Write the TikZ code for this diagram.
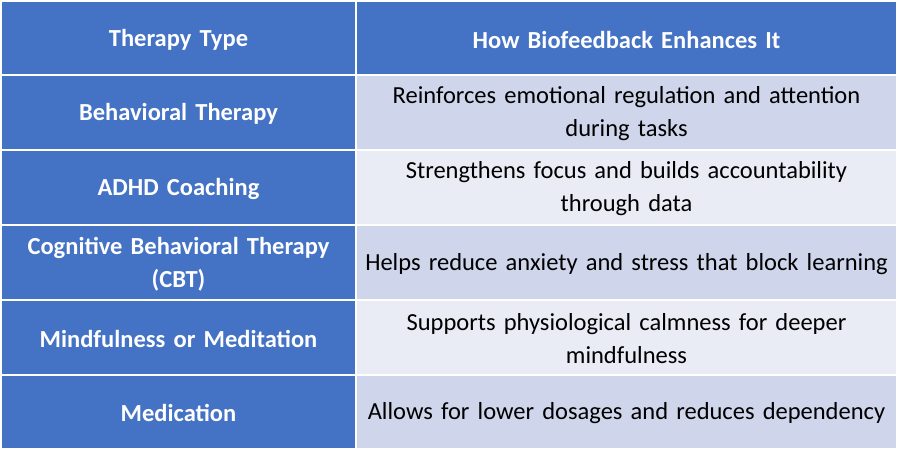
\documentclass[tikz,border=0pt]{standalone}
\usepackage{fontspec}
\setmainfont{Carlito}
\definecolor{hblue}{HTML}{4472C4}
\definecolor{rowa}{HTML}{CFD5EA}
\definecolor{rowb}{HTML}{E9EBF5}
\begin{document}
\begin{tikzpicture}[x=1pt,y=-1pt,
  cellbox/.style={draw=white,line width=2pt},
  txt/.style={inner sep=0pt,align=center,text width=560pt,font=\fontsize{24.5}{33}\selectfont},
  headtxt/.style={txt,text=white,font=\fontsize{24.5}{33}\selectfont\bfseries}]
\useasboundingbox (0,0) rectangle (900,450);
\fill[white] (0,0) rectangle (900,450);
% cells
\draw[cellbox,fill=hblue] (1,1) rectangle (356,75);
\draw[cellbox,fill=hblue] (356,1) rectangle (897,75);
\foreach \y/\c in {75/rowa,150/rowb,225/rowa,300/rowb,375/rowa}{
  \draw[cellbox,fill=hblue] (1,\y) rectangle (356,\y+75);
  \draw[cellbox,fill=\c] (356,\y) rectangle (897,\y+75);
}
\fill[white] (0,448) rectangle (900,450);
\node[headtxt] (h1) at (178.5,40) {Therapy Type};
\node[headtxt] (h2) at (626.5,40) {How Biofeedback Enhances It};
\node[headtxt] (a1) at (178.5,114) {Behavioral Therapy};
\node[txt] (b1) at (626.5,114) {Reinforces emotional regulation and attention\\during tasks};
\node[headtxt] (a2) at (178.5,189) {ADHD Coaching};
\node[txt] (b2) at (626.5,189) {Strengthens focus and builds accountability\\through data};
\node[headtxt] (a3) at (178.5,264) {Cognitive Behavioral Therapy\\(CBT)};
\node[txt] (b3) at (626.5,264) {Helps reduce anxiety and stress that block learning};
\node[headtxt] (a4) at (178.5,339) {Mindfulness or Meditation};
\node[txt] (b4) at (626.5,339) {Supports physiological calmness for deeper\\mindfulness};
\node[headtxt] (a5) at (178.5,413) {Medication};
\node[txt] (b5) at (626.5,413) {Allows for lower dosages and reduces dependency};
\end{tikzpicture}
\end{document}
